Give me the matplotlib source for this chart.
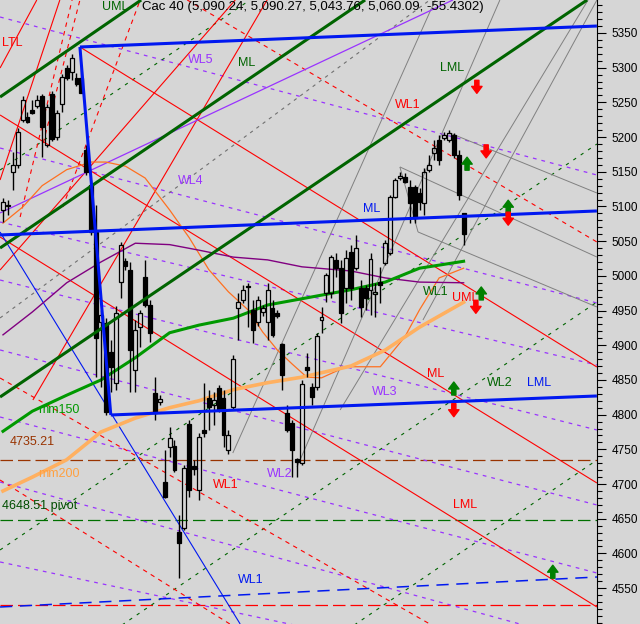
"""Cac 40 daily candles with pitchforks, warning lines and moving averages."""

import matplotlib
matplotlib.use("Agg")
import matplotlib.pyplot as plt
from matplotlib.patches import Rectangle
from matplotlib.ticker import MultipleLocator

plt.rcParams["font.family"] = ["Liberation Sans", "DejaVu Sans"]

# daily candles, oldest first
opens = [5095, 5101, 5150, 5160, 5225, 5229, 5239, 5245, 5259, 5189,
         5262, 5200, 5248, 5300, 5294, 5285, 5285, 5181, 5131, 5063,
         4934, 4932, 4890, 4846, 4991, 5021, 5009, 4864, 4926, 4998,
         4958, 4831, 4818, 4703, 4753, 4755, 4631, 4637, 4787, 4726,
         4691, 4778, 4824, 4814, 4838, 4824, 4749, 4811, 4954, 4965,
         4985, 4951, 4934, 4948, 4934, 4954, 4947, 4902, 4802, 4788,
         4736, 4730, 4869, 4840, 4840, 4937, 4975, 4975, 5023, 5011,
         4983, 5034, 5011, 4983, 4983, 4980, 4974, 4991, 5019, 5033,
         5114, 5141, 5143, 5128, 5128, 5119, 5105, 5153, 5177, 5196,
         5199, 5196, 5203, 5174, 5090.24]
highs = [5112, 5109, 5179, 5213, 5259, 5236, 5253, 5261, 5262, 5248,
         5266, 5239, 5291, 5304, 5320, 5292, 5302, 5189, 5138, 5102,
         4951, 4939, 4908, 4957, 5049, 5026, 5020, 4937, 4951, 5023,
         4965, 4854, 4828, 4749, 4782, 4764, 4655, 4728, 4792, 4735,
         4774, 4846, 4836, 4833, 4843, 4836, 4778, 4886, 4975, 4987,
         4990, 4965, 4971, 4958, 4990, 4965, 4951, 4903, 4814, 4792,
         4738, 4850, 4889, 4846, 4918, 4955, 5004, 5030, 5033, 5023,
         5037, 5045, 5059, 4994, 4987, 5033, 4990, 5013, 5052, 5117,
         5141, 5150, 5148, 5138, 5131, 5127, 5155, 5174, 5196, 5203,
         5207, 5210, 5206, 5181, 5090.27]
lows = [5078, 5088, 5124, 5155, 5222, 5220, 5233, 5242, 5171, 5186,
        5194, 5196, 5236, 5282, 5282, 5274, 5264, 5145, 5059, 4854,
        4840, 4800, 4833, 4836, 4968, 5009, 4833, 4833, 4898, 4955,
        4905, 4792, 4814, 4680, 4739, 4717, 4565, 4634, 4681, 4713,
        4677, 4768, 4778, 4785, 4804, 4753, 4743, 4807, 4908, 4961,
        4926, 4903, 4928, 4942, 4908, 4912, 4939, 4836, 4775, 4710,
        4710, 4728, 4854, 4814, 4836, 4918, 4962, 4968, 4998, 4932,
        4961, 4965, 5009, 4941, 4951, 4944, 4941, 4961, 5016, 5030,
        5112, 5138, 5134, 5076, 5076, 5095, 5088, 5150, 5167, 5160,
        5196, 5193, 5170, 5109, 5043.76]
closes = [5106, 5102, 5160, 5207, 5253, 5222, 5235, 5253, 5215, 5243,
          5197, 5235, 5287, 5285, 5314, 5277, 5264, 5150, 5063, 4910,
          4944, 4804, 4869, 4947, 5045, 5014, 4893, 4922, 4947, 4958,
          4918, 4802, 4823, 4681, 4766, 4720, 4615, 4723, 4691, 4722,
          4768, 4774, 4811, 4821, 4807, 4771, 4771, 4880, 4962, 4980,
          4984, 4922, 4965, 4954, 4980, 4915, 4942, 4857, 4778, 4749,
          4732, 4844, 4864, 4825, 4913, 4941, 5001, 5027, 5011, 4947,
          5026, 4983, 5040, 4955, 4968, 5024, 4977, 4987, 5047, 5114,
          5138, 5144, 5135, 5105, 5083, 5106, 5150, 5160, 5184, 5167,
          5203, 5206, 5174, 5117, 5060.09]

# moving averages, sampled at bar numbers
ma_bars = [0, 6, 13, 20, 27, 34, 40, 47, 54, 61, 71, 78, 85, 94]
mm150 = [4776, 4805, 4828, 4850, 4882, 4918, 4929, 4939, 4958, 4967, 4980, 4991, 5011, 5021]
mm200 = [4690, 4710, 4735, 4775, 4795, 4810, 4820, 4836, 4846, 4854, 4870, 4893, 4926, 4962]
mm_purple = [4915, 4948, 4990, 5020, 5047, 5045, 5037, 5027, 5023, 5013, 5007, 4997, 4991, 4990]
fast_bars = [0, 4, 8, 13, 18, 21, 25, 29, 34, 38, 42, 46, 50, 53, 56, 59, 62, 65, 70, 77, 82, 85, 89, 94]
mm_fast = [5076, 5099, 5130, 5153, 5164, 5164, 5158, 5141, 5095, 5055, 5009, 4977,
           4951, 4919, 4893, 4873, 4854, 4853, 4869, 4869, 4912, 4951, 4997, 5011]

# horizontal levels
pivot_level = 4648.51
support_level = 4735.21
low_level = 4525

# trend lines as (bar, price, bar, price)
blue_fork = [(15.7, 5329.8, 121.2, 5360.0), (15.7, 5329.8, 22.0, 4799.5),
             (-0.6, 5058.9, 121.2, 5093.5), (22.0, 4799.5, 121.2, 4826.9)]
blue_thin = [(-0.6, 5063.2, 48.4, 4498.3)]
blue_dash = [(-0.6, 4522.8, 121.2, 4566.0)]
green_fork = [(-0.6, 5257.7, 28.2, 5397.5), (-0.6, 5040.1, 73.9, 5397.5),
              (-0.6, 4825.4, 119.2, 5397.5)]
green_dash = [(-0.6, 5152.5, 50.4, 5397.5), (-0.6, 4605.0, 121.2, 5190.0),
              (-0.6, 4377.3, 121.2, 4962.3), (-0.6, 4149.6, 121.2, 4734.6)]
grey_dash = [(-0.6, 4939.3, 87.1, 5397.5)]
violet_dash = [(-0.6, 5373.0, 121.2, 5145.3), (-0.6, 5184.2, 121.2, 4960.9),
               (-0.6, 5077.6, 121.2, 4871.5), (-0.6, 4994.0, 121.2, 4777.9),
               (-0.6, 4893.2, 121.2, 4669.8), (-0.6, 4796.6, 121.2, 4571.8),
               (-0.6, 4702.9, 121.2, 4468.0), (-0.6, 4587.7, 121.2, 4403.2)]
violet_solid = [(-0.6, 5090.6, 91.8, 5397.5)]
red_fork = [(15.7, 5329.8, 121.2, 4868.6), (-0.6, 5231.8, 121.2, 4701.5),
            (-0.6, 5056.0, 121.2, 4522.8)]
red_steep = [(-0.6, 5299.5, 6.9, 5397.5), (-0.6, 5008.4, 47.4, 5397.5),
             (6.1, 4821.1, 53.9, 5397.5), (-0.6, 5138.1, 11.6, 5397.5)]
red_dash = [(3.5, 5084.8, 14.1, 5397.5), (8.2, 5191.4, 15.7, 5397.5),
            (12.2, 5099.2, 28.0, 5397.5), (37.6, 5397.5, 121.2, 5048.8),
            (-0.6, 4705.8, 46.3, 4498.3), (-0.6, 4852.8, 87.1, 4498.3)]
grey_lines = [(91.2, 5205.8, 121.2, 5119.4), (81.0, 5156.9, 121.2, 5027.1),
              (84.7, 5063.2, 121.2, 4955.1), (81.0, 5156.9, 84.7, 5063.2),
              (46.9, 4744.7, 88.2, 5397.5), (60.0, 4724.5, 101.4, 5397.5),
              (68.8, 4806.7, 119.4, 5397.5), (85.7, 4936.4, 121.2, 5397.5)]

# signal arrows (bar, price)
up_bars = [94.7, 103.1, 97.6, 92.0, 112.2]
up_prices = [5171, 5109, 4984, 4847, 4583]
down_bars = [96.7, 98.6, 103.1, 96.5, 92.0]
down_prices = [5263, 5170, 5073, 4946, 4797]

BG = "#d6d6d6"
RED = "#ff0000"
BLUE = "#0018f0"
DKGREEN = "#006400"
VIOLET = "#9933ff"

fig = plt.figure(figsize=(6.4, 6.24), dpi=100, facecolor=BG)
ax = fig.add_axes([0, 0, 597 / 640, 1], facecolor=BG)


def draw(lines, **kw):
    for x0, p0, x1, p1 in lines:
        ax.plot([x0, x1], [p0, p1], solid_capstyle="butt", **kw)


# horizontal levels
ax.axhline(support_level, color="#993300", lw=0.9, dashes=(10, 4), zorder=1)
ax.axhline(pivot_level, color="#007000", lw=0.9, dashes=(10, 4), zorder=1)
ax.axhline(low_level, color=RED, lw=0.9, dashes=(10, 4), zorder=1)

draw(violet_dash, color=VIOLET, lw=0.9, dashes=(3, 4), zorder=1)
draw(green_dash, color=DKGREEN, lw=0.8, dashes=(3, 5), zorder=1)
draw(grey_dash, color="#707070", lw=0.8, dashes=(3, 4), zorder=1)
draw(red_dash, color=RED, lw=0.8, dashes=(4, 4), zorder=1)
draw(red_fork, color=RED, lw=0.8, zorder=1)
draw(red_steep, color=RED, lw=0.8, zorder=1)
draw(grey_lines, color="#808080", lw=0.7, zorder=1)
draw(violet_solid, color=VIOLET, lw=0.9, zorder=1)
draw(blue_thin, color=BLUE, lw=0.8, zorder=1)
draw(blue_dash, color=BLUE, lw=1.1, dashes=(8, 5), zorder=1)

# moving averages
ax.plot(fast_bars, mm_fast, color="#ff7020", lw=0.9, zorder=2)
ax.plot(ma_bars, mm_purple, color="#800080", lw=1.0, zorder=2)
ax.plot(ma_bars, mm200, color="#ffb060", lw=2.6, zorder=2)
ax.plot(ma_bars, mm150, color="#009900", lw=2.2, zorder=2)

# candles
w = 0.8
for i, (o, h, l, c) in enumerate(zip(opens, highs, lows, closes)):
    top, bot = max(o, c), min(o, c)
    ax.vlines(i, top, h, color="black", lw=1.0, zorder=3)
    ax.vlines(i, l, bot, color="black", lw=1.0, zorder=3)
    face = "black" if c < o else "none"
    ax.add_patch(Rectangle((i - w / 2, bot), w, max(top - bot, 0.5),
                           facecolor=face, edgecolor="black", lw=0.9, zorder=3))

draw(green_fork, color=DKGREEN, lw=2.2, zorder=4)
draw(blue_fork, color=BLUE, lw=2.2, zorder=4)

# arrows
arrow_style = "simple,head_width=0.75,head_length=0.5,tail_width=0.3"
for x, p in zip(up_bars, up_prices):
    ax.annotate("", xy=(x, p), xytext=(0, -13), textcoords="offset pixels",
                arrowprops=dict(arrowstyle=arrow_style, mutation_scale=10,
                                color="#008000", shrinkA=0, shrinkB=0),
                zorder=5)
for x, p in zip(down_bars, down_prices):
    ax.annotate("", xy=(x, p), xytext=(0, 13), textcoords="offset pixels",
                arrowprops=dict(arrowstyle=arrow_style, mutation_scale=10,
                                color=RED, shrinkA=0, shrinkB=0),
                zorder=5)

# labels
labels = [
    (20.3, 5388, "UML", DKGREEN), (-0.2, 5335, "LTL", RED), (37.8, 5311, "WL5", VIOLET),
    (48.0, 5307, "ML", DKGREEN), (89.2, 5299, "LML", DKGREEN), (80.0, 5246, "WL1", RED),
    (35.7, 5137, "WL4", VIOLET), (73.5, 5096, "ML", BLUE), (85.7, 4977, "WL1", DKGREEN),
    (91.6, 4968, "UML", RED), (86.5, 4859, "ML", RED), (75.3, 4833, "WL3", VIOLET),
    (98.8, 4846, "WL2", DKGREEN), (106.9, 4846, "LML", BLUE), (7.1, 4807, "mm150", "#009900"),
    (1.4, 4761, "4735.21", "#993300"), (7.1, 4714, "mm200", "#ffa040"),
    (42.9, 4699, "WL1", RED), (53.9, 4714, "WL2", VIOLET), (91.8, 4670, "LML", RED),
    (48.0, 4562, "WL1", BLUE), (-0.2, 4668, "4648.51 pivot", "#004d00"),
]
for x, p, s, col in labels:
    ax.text(x, p, s, color=col, fontsize=9, ha="left", va="center", zorder=6)
ax.text(28.3, 5387, "Cac 40 (5,090.24, 5,090.27, 5,043.76, 5,060.09, -55.4302)",
        color="black", fontsize=9.5, ha="left", va="center", zorder=6)

ax.set_xlim(-0.61, 121.22)
ax.set_ylim(4498.3, 5397.5)
for side in ("left", "top", "bottom"):
    ax.spines[side].set_visible(False)
ax.spines["right"].set_linewidth(0.8)
ax.set_xticks([])
ax.yaxis.tick_right()
ax.set_yticks(range(4550, 5351, 50))
ax.yaxis.set_minor_locator(MultipleLocator(10))
ax.tick_params(axis="y", which="major", direction="out", length=6.5, width=0.8,
               pad=4, labelsize=8.5)
ax.tick_params(axis="y", which="minor", direction="out", length=3.5, width=0.8)

fig.savefig("out.png", dpi=100, facecolor=BG)
